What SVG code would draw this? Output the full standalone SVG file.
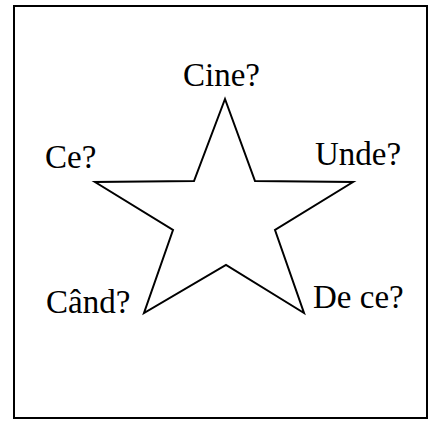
<svg xmlns="http://www.w3.org/2000/svg" width="433" height="421" viewBox="0 0 433 421">
<style>
.lbl{font-family:"Liberation Serif","Times New Roman",serif;font-size:33px;fill:#000}
.shape{fill:#fff;stroke:#000;stroke-width:2}
</style>
<rect x="0" y="0" width="433" height="421" fill="#fff"/>
<g id="frame"><rect class="shape" x="14" y="6" width="413" height="412"/></g>
<g id="star"><polygon class="shape" stroke-linejoin="miter" points="225,99 255,181 353,182 275,230 304,313 226,265 144,313 173,230 95,182 194,181"/></g>
<g id="labels">
<text class="lbl" x="183" y="86">Cine?</text>
<text class="lbl" x="45" y="168">Ce?</text>
<text class="lbl" x="315" y="165">Unde?</text>
<text class="lbl" x="46" y="313">Când?</text>
<text class="lbl" x="313" y="308">De ce?</text>
</g>
<g id="connectors"></g>
</svg>
